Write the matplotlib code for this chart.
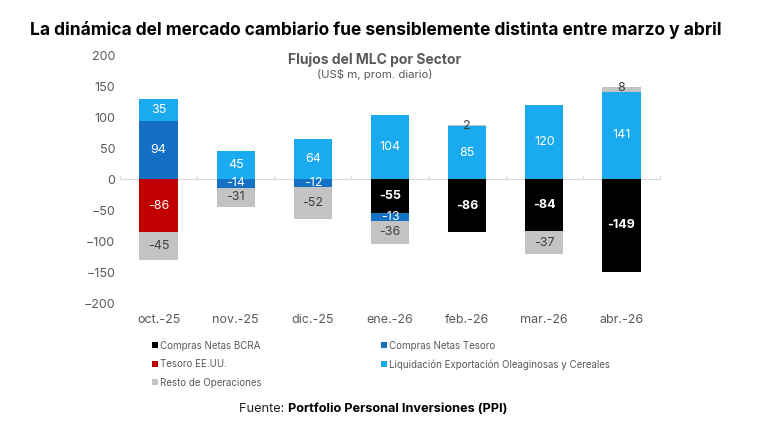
import numpy as np
import matplotlib
matplotlib.use("Agg")
import matplotlib.pyplot as plt

plt.rcParams['font.family'] = ['Inter', 'DejaVu Sans']

meses = ['oct.-25', 'nov.-25', 'dic.-25', 'ene.-26', 'feb.-26', 'mar.-26', 'abr.-26']

# series (US$ m, prom. diario)
bcra = [0, 0, 0, -55, -86, -84, -149]
tesoro = [94, -14, -12, -13, 0, 0, 0]
tesoro_eeuu = [-86, 0, 0, 0, 0, 0, 0]
liquidacion = [35, 45, 64, 104, 85, 120, 141]
resto = [-45, -31, -52, -36, 2, -37, 8]

series = [
    ('Compras Netas BCRA', bcra, '#000000', 'white', 'bold'),
    ('Compras Netas Tesoro', tesoro, '#1370c4', 'white', 'normal'),
    ('Tesoro EE.UU.', tesoro_eeuu, '#c00000', 'white', 'normal'),
    ('Liquidación Exportación Oleaginosas y Cereales', liquidacion, '#1aaaf0', 'white', 'normal'),
    ('Resto de Operaciones', resto, '#c3c3c3', '#404040', 'normal'),
]

fig = plt.figure(figsize=(7.8, 4.3), dpi=100)
ax = fig.add_axes([0.154, 0.295, 0.692, 0.577])

x = np.arange(len(meses))
pos_base = np.zeros(len(meses))
neg_base = np.zeros(len(meses))
handles = {}
for name, vals, color, tcolor, weight in series:
    vals = np.array(vals, dtype=float)
    base = np.where(vals >= 0, pos_base, neg_base)
    bars = ax.bar(x, vals, 0.5, bottom=base, color=color, label=name, zorder=2)
    handles[name] = bars
    for i, v in enumerate(vals):
        if v == 0:
            continue
        yc = base[i] + v / 2
        c = tcolor
        if abs(v) < 10:
            # tiny segment: label sits on it in dark text
            c = '#404040'
            yc = base[i] + v + (-2 if v > 0 else 2)
        ax.text(x[i], yc, f'{int(v)}', ha='center', va='center',
                color=c, fontsize=9, fontweight=weight, zorder=3)
    pos_base = pos_base + np.where(vals > 0, vals, 0)
    neg_base = neg_base + np.where(vals < 0, vals, 0)

ax.set_xlim(-0.5, len(meses) - 0.5)
ax.set_ylim(-200, 200)
ax.set_yticks(np.arange(-200, 201, 50))
ax.set_xticks(x)
ax.set_xticklabels(meses)
ax.tick_params(axis='both', length=0, labelsize=9, colors='#595959')
ax.tick_params(axis='x', pad=8)
for s in ax.spines.values():
    s.set_visible(False)

# zero line with small ticks at category boundaries
sec = ax.secondary_xaxis(0.5)
sec.set_xticks(np.arange(-0.5, len(meses), 1))
sec.set_xticklabels([])
sec.tick_params(length=3, color='#d9d9d9')
for s in sec.spines.values():
    s.set_color('#d9d9d9')
sec.set_zorder(1)

ax.text(0.472, 0.982, 'Flujos del MLC por Sector', transform=ax.transAxes,
        ha='center', va='center', fontsize=10, fontweight='bold', color='#595959')
ax.text(0.472, 0.922, '(US$ m, prom. diario)', transform=ax.transAxes,
        ha='center', va='center', fontsize=8.2, color='#595959')

order = ['Compras Netas BCRA', 'Tesoro EE.UU.', 'Resto de Operaciones',
         'Compras Netas Tesoro', 'Liquidación Exportación Oleaginosas y Cereales']
fig.legend([handles[n] for n in order], order, ncol=2, loc='upper left',
           bbox_to_anchor=(0.195, 0.208), frameon=False, fontsize=7,
           labelcolor='#595959', handlelength=0.6, handleheight=0.6,
           handletextpad=0.2, columnspacing=12.3, labelspacing=0.88,
           borderaxespad=0, borderpad=0)

fig.text(0.038, 0.93, 'La dinámica del mercado cambiario fue sensiblemente distinta entre marzo y abril',
         ha='left', va='center', fontsize=12.5, fontweight='bold', color='black')

fig.text(0.369, 0.05, 'Fuente: ', ha='right', va='center', fontsize=9.2, color='#222222')
fig.text(0.369, 0.05, 'Portfolio Personal Inversiones (PPI)', ha='left', va='center',
         fontsize=9.2, fontweight='bold', color='black')

fig.savefig('out.png', dpi=100)
